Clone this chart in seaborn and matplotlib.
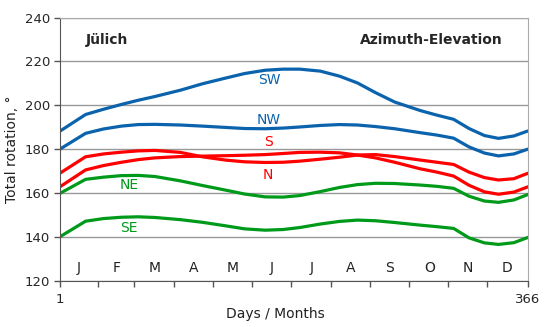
import pandas as pd
import matplotlib
matplotlib.use("Agg")
import matplotlib.pyplot as plt
import seaborn as sns

days = [1, 21, 35, 49, 62, 75, 95, 112, 130, 145, 161, 175, 188,
        204, 219, 233, 247, 262, 282, 295, 308, 320, 332, 343, 355, 366]

sw = [188.2, 195.8, 198.2, 200.4, 202.3, 204.0, 206.9, 209.8, 212.4, 214.5, 216.0, 216.5, 216.5,
      215.6, 213.3, 210.2, 205.8, 201.5, 197.6, 195.5, 193.6, 189.4, 186.2, 184.9, 186.0, 188.3]
nw = [180.0, 187.2, 189.2, 190.5, 191.2, 191.3, 191.0, 190.5, 189.9, 189.4, 189.3, 189.6, 190.1,
      190.8, 191.2, 191.0, 190.3, 189.3, 187.5, 186.4, 185.0, 181.0, 178.2, 176.9, 177.8, 180.0]
s = [162.8, 170.5, 172.5, 174.0, 175.2, 176.0, 176.6, 176.8, 177.0, 177.2, 177.5, 178.0, 178.5,
     178.6, 178.3, 177.3, 176.0, 174.0, 171.0, 169.5, 167.7, 163.5, 160.5, 159.4, 160.4, 162.8]
n = [169.0, 176.5, 177.8, 178.6, 179.2, 179.4, 178.5, 176.5, 175.0, 174.2, 173.9, 174.0, 174.5,
     175.4, 176.3, 177.3, 177.5, 176.6, 175.0, 174.0, 173.0, 169.5, 167.0, 165.9, 166.5, 169.0]
ne = [159.8, 166.2, 167.2, 167.9, 168.0, 167.5, 165.5, 163.4, 161.3, 159.5, 158.2, 158.1, 158.8,
      160.6, 162.5, 163.8, 164.4, 164.3, 163.6, 163.0, 162.1, 158.5, 156.3, 155.7, 156.8, 159.3]
se = [140.0, 147.1, 148.3, 148.9, 149.1, 148.8, 147.8, 146.6, 145.0, 143.6, 143.0, 143.3, 144.2,
      145.8, 147.0, 147.6, 147.3, 146.5, 145.3, 144.6, 143.8, 139.5, 137.2, 136.5, 137.3, 139.7]

series_names = ["SW", "NW", "S", "N", "NE", "SE"]
series_values = [sw, nw, s, n, ne, se]

# label positions (day, value) for the curve names
label_pos = {"SW": (164, 211.5), "NW": (164, 193.2), "S": (164, 183.2),
             "N": (163, 168.0), "NE": (55, 163.5), "SE": (55, 144.0)}

months = ["J", "F", "M", "A", "M", "J", "J", "A", "S", "O", "N", "D"]
month_mid = [16, 45, 75, 105, 136, 166, 197, 228, 258, 289, 319, 350]
month_edges = [31, 59, 90, 120, 151, 181, 212, 243, 273, 304, 334]

BLUE = "#0b63ad"
RED = "#ff0000"
GREEN = "#009a1a"
colors = {"SW": BLUE, "NW": BLUE, "S": RED, "N": RED, "NE": GREEN, "SE": GREEN}

df = pd.DataFrame({"day": days})
for name, vals in zip(series_names, series_values):
    df[name] = vals
long_df = df.melt(id_vars="day", var_name="orientation", value_name="rotation")

sns.set_style("white")
plt.rcParams["font.family"] = ["DejaVu Sans"]

fig = plt.figure(figsize=(5.5, 3.27), dpi=100)
ax = fig.add_axes([0.109, 0.142, 0.851, 0.804])

sns.lineplot(data=long_df, x="day", y="rotation", hue="orientation",
             palette=colors, linewidth=2.3, legend=False, ax=ax)

for name, (x, y) in label_pos.items():
    ax.text(x, y, name, color=colors[name], fontsize=10, ha="center", va="center")

for m, x in zip(months, month_mid):
    ax.text(x, 125.6, m, fontsize=10, ha="center", va="center", color="#222222")

ax.text(21, 229.7, "Jülich", fontsize=10, fontweight="bold", ha="left", va="center")
ax.text(346, 229.7, "Azimuth-Elevation", fontsize=10, fontweight="bold",
        ha="right", va="center")

ax.set_xlim(1, 366)
ax.set_ylim(120, 240)
ax.set_yticks(range(120, 241, 20))
ax.yaxis.grid(True, color="#999999", linewidth=1)
ax.set_xticks([1] + month_edges + [366])
ax.set_xticklabels(["1"] + [""] * len(month_edges) + ["366"])
ax.tick_params(axis="both", direction="out", length=4, width=1, color="#555555",
               labelsize=9.5, pad=3, left=True, bottom=True)
ax.tick_params(axis="x", pad=5)

for side in ["left", "bottom"]:
    ax.spines[side].set_color("#555555")
for side in ["top", "right"]:
    ax.spines[side].set_color("#aaaaaa")

ax.set_xlabel("Days / Months", fontsize=10, color="#222222")
ax.set_ylabel("Total rotation, °", fontsize=10, color="#222222")
ax.xaxis.set_label_coords(0.46, -0.1)
ax.yaxis.set_label_coords(-0.088, 0.5)

fig.savefig("out.png", dpi=100)
